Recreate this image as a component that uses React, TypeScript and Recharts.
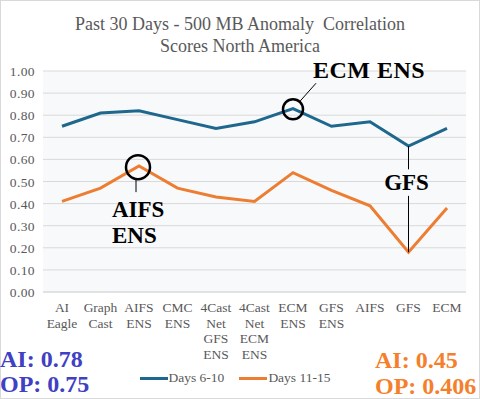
import {
  CartesianGrid,
  ComposedChart,
  Legend,
  Line,
  ReferenceDot,
  ReferenceLine,
  XAxis,
  YAxis,
} from "recharts";

const models = [
  "AI Eagle",
  "Graph Cast",
  "AIFS ENS",
  "CMC ENS",
  "4Cast Net GFS ENS",
  "4Cast Net ECM ENS",
  "ECM ENS",
  "GFS ENS",
  "AIFS",
  "GFS",
  "ECM",
];
const days6to10 = [0.75, 0.81, 0.82, 0.78, 0.74, 0.77, 0.83, 0.75, 0.77, 0.66, 0.74];
const days11to15 = [0.41, 0.47, 0.57, 0.47, 0.43, 0.41, 0.54, 0.46, 0.39, 0.18, 0.38];
const yTicks = [0, 0.1, 0.2, 0.3, 0.4, 0.5, 0.6, 0.7, 0.8, 0.9, 1.0];

const chartData = models.map((model, i) => ({
  model,
  early: days6to10[i],
  late: days11to15[i],
}));

const serif = "Liberation Serif";
const grey = "#595959";
const blue = "#1e678d";
const orange = "#ed7d31";

function ModelTick({ x, y, payload }: any) {
  const words = String(payload.value).split(" ");
  return (
    <text x={x} y={y} textAnchor="middle" fill={grey} style={{ fontSize: 13.5, fontFamily: serif }}>
      {words.map((w, i) => (
        <tspan key={i} x={x} dy={i === 0 ? 12 : 15.5}>
          {w}
        </tspan>
      ))}
    </text>
  );
}

function YTick({ x, y, payload }: any) {
  return (
    <text x={x} y={y} dx={3} dy={5} textAnchor="end" fill={grey} style={{ fontSize: 13.5, fontFamily: serif, letterSpacing: 0.4 }}>
      {Number(payload.value).toFixed(2)}
    </text>
  );
}

const bold = { fontSize: 23, fontWeight: 700, fontFamily: serif };

function AifsCallout({ cx, cy }: any) {
  return (
    <g>
      <circle cx={cx - 1} cy={cy} r={12} fill="none" stroke="#000" strokeWidth={2.5} />
      <line x1={cx - 3} y1={cy + 12} x2={cx - 3} y2={cy + 25} stroke="#000" strokeWidth={1} />
      <text x={cx - 27} y={cy + 50} fill="#000" style={bold}>
        <tspan x={cx - 27}>AIFS</tspan>
        <tspan x={cx - 27} dy={26}>ENS</tspan>
      </text>
    </g>
  );
}

function EcmCallout({ cx, cy }: any) {
  return (
    <g>
      <circle cx={cx} cy={cy} r={10} fill="none" stroke="#000" strokeWidth={2.5} />
      <line x1={cx + 7} y1={cy - 8} x2={cx + 23} y2={cy - 26} stroke="#000" strokeWidth={1} />
      <text x={cx + 20} y={cy - 31} fill="#000" style={{ ...bold, fontSize: 24, letterSpacing: 0.5 }}>
        ECM ENS
      </text>
    </g>
  );
}

function GfsLabel({ cx, cy }: any) {
  return (
    <text x={cx - 2} y={cy + 6} textAnchor="middle" fill="#000" style={bold}>
      GFS
    </text>
  );
}

function LegendRow() {
  const items = [
    { label: "Days 6-10", color: blue },
    { label: "Days 11-15", color: orange },
  ];
  return (
    <div style={{ display: "flex", justifyContent: "center", gap: 15, fontFamily: serif, fontSize: 13.5, color: grey, paddingLeft: 4 }}>
      {items.map((it) => (
        <div key={it.label} style={{ display: "flex", alignItems: "center" }}>
          <span style={{ display: "inline-block", width: 28, height: 3, background: it.color, marginRight: 1 }} />
          {it.label}
        </div>
      ))}
    </div>
  );
}

export default function App() {
  return (
    <div
      style={{
        position: "absolute",
        left: 0,
        top: 0,
        width: 480,
        height: 399,
        background: "#fff",
        boxSizing: "border-box",
        border: "1px solid #d9d9d9",
        fontFamily: serif,
      }}
    >
      <div
        style={{
          position: "absolute",
          top: 12,
          left: 0,
          width: 478,
          textAlign: "center",
          fontSize: 18,
          lineHeight: "22px",
          color: grey,
        }}
      >
        Past 30 Days - 500 MB Anomaly&nbsp; Correlation
        <br />
        Scores North America
      </div>
      <div style={{ position: "absolute", left: -1, top: 0 }}>
        <ComposedChart
          width={480}
          height={399}
          data={chartData}
          margin={{ top: 70, right: 14, left: 0, bottom: 8 }}
        >
          <CartesianGrid vertical={false} stroke="#d9d9d9" fill="#f8f9fb" />
          <XAxis
            dataKey="model"
            interval={0}
            padding={{ left: 19, right: 19 }}
            tick={<ModelTick />}
            tickLine={false}
            axisLine={{ stroke: "#d9d9d9" }}
            height={78}
          />
          <YAxis
            domain={[0, 1]}
            ticks={yTicks}
            interval={0}
            tick={<YTick />}
            tickLine={false}
            axisLine={false}
            tickMargin={5}
            width={43}
          />
          <Legend verticalAlign="bottom" height={22} content={<LegendRow />} />
          <Line dataKey="early" name="Days 6-10" stroke={blue} strokeWidth={3} dot={false} isAnimationActive={false} />
          <Line dataKey="late" name="Days 11-15" stroke={orange} strokeWidth={3} dot={false} isAnimationActive={false} />
          <ReferenceLine
            segment={[
              { x: "GFS", y: 0.66 },
              { x: "GFS", y: 0.555 },
            ]}
            stroke="#000"
            strokeWidth={1}
          />
          <ReferenceLine
            segment={[
              { x: "GFS", y: 0.435 },
              { x: "GFS", y: 0.18 },
            ]}
            stroke="#000"
            strokeWidth={1}
          />
          <ReferenceDot x="GFS" y={0.49} shape={<GfsLabel />} />
          <ReferenceDot x="AIFS ENS" y={0.565} shape={<AifsCallout />} />
          <ReferenceDot x="ECM ENS" y={0.827} shape={<EcmCallout />} />
        </ComposedChart>
      </div>
      <div style={{ position: "absolute", left: -1, top: 346, fontSize: 24, fontWeight: "bold", lineHeight: "25px", color: "#4040c4" }}>
        AI: 0.78
        <br />
        OP: 0.75
      </div>
      <div style={{ position: "absolute", left: 374, top: 346, fontSize: 24, fontWeight: "bold", lineHeight: "26px", color: "#f47f2c" }}>
        AI: 0.45
        <br />
        OP: 0.406
      </div>
    </div>
  );
}
